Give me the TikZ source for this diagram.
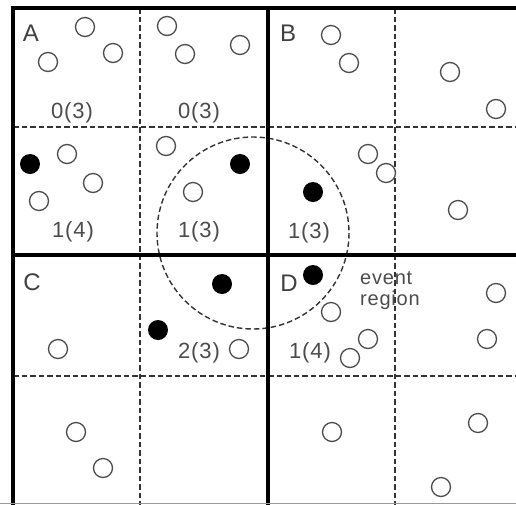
\documentclass[tikz,border=0pt]{standalone}
\usepackage{fontspec}
\setmainfont{Liberation Sans}
\newfontfamily\spacedsans[LetterSpace=4]{Liberation Sans}
\begin{document}
\begin{tikzpicture}[x=1pt,y=-1pt,
  open/.style={circle,draw=black!70,line width=1.3pt,minimum size=19pt,inner sep=0pt,fill=white},
  full/.style={circle,fill=black,minimum size=20pt,inner sep=0pt},
  thick line/.style={line width=4pt,black},
  dash line/.style={line width=1.4pt,black!80,dash pattern=on 5.5pt off 3pt},
  quad/.style={font=\fontsize{24}{28}\selectfont,text=black!75,inner sep=0pt},
  cnt/.style={font=\spacedsans\fontsize{22}{26}\selectfont,text=black!70,inner sep=0pt},
  ev/.style={font=\spacedsans\fontsize{20}{24}\selectfont,text=black!70,inner sep=0pt,align=left}]
\useasboundingbox (0,0) rectangle (516,504);
\fill[white] (0,0) rectangle (516,504);
\begin{scope}
\clip (0,0) rectangle (516,504);
% dashed grid
\draw[dash line] (140,8) -- (140,510);
\draw[dash line] (395,8) -- (395,510);
\draw[dash line] (13,127) -- (520,127);
\draw[dash line] (13,376) -- (520,376);
% event region
\draw[dash line] (253,233) circle (96);
% thick frame
\draw[thick line] (13,520) -- (13,8) -- (530,8);
\draw[thick line] (268,8) -- (268,520);
\draw[thick line] (13,255) -- (530,255);
\draw[black!40,line width=0.8pt] (0,503) -- (516,503);
\end{scope}
% quadrant labels
\node[quad] (lA) at (31,33) {A};
\node[quad] (lB) at (288,33) {B};
\node[quad] (lC) at (32,282) {C};
\node[quad] (lD) at (289,283) {D};
% counts
\node[cnt] (c1) at (72,113) {0(3)};
\node[cnt] (c2) at (199,113) {0(3)};
\node[cnt] (c3) at (73,232) {1(4)};
\node[cnt] (c4) at (199,232) {1(3)};
\node[cnt] (c5) at (309,233) {1(3)};
\node[cnt] (c6) at (199,353) {2(3)};
\node[cnt] (c7) at (310,353) {1(4)};
\node[ev] (evt) at (390,291) {event\\[-3pt]region};
% open circles
\node[open] (o1) at (85,27) {};
\node[open] (o2) at (113,53) {};
\node[open] (o3) at (48,62) {};
\node[open] (o4) at (167,26) {};
\node[open] (o5) at (185,54) {};
\node[open] (o6) at (240,45) {};
\node[open] (o7) at (67,154) {};
\node[open] (o8) at (93,183) {};
\node[open] (o9) at (39,201) {};
\node[open] (o10) at (166,146) {};
\node[open] (o11) at (193,192) {};
\node[open] (o12) at (331,35) {};
\node[open] (o13) at (349,63) {};
\node[open] (o14) at (450,72) {};
\node[open] (o15) at (496,109) {};
\node[open] (o16) at (368,154) {};
\node[open] (o17) at (386,173) {};
\node[open] (o18) at (458,210) {};
\node[open] (o19) at (58,349) {};
\node[open] (o20) at (239,349) {};
\node[open] (o21) at (76,432) {};
\node[open] (o22) at (103,468) {};
\node[open] (o23) at (331,312) {};
\node[open] (o24) at (368,339) {};
\node[open] (o25) at (350,358) {};
\node[open] (o26) at (496,293) {};
\node[open] (o27) at (487,339) {};
\node[open] (o28) at (332,432) {};
\node[open] (o29) at (478,423) {};
\node[open] (o30) at (441,487) {};
% filled circles
\node[full] (f1) at (30,164) {};
\node[full] (f2) at (240,164) {};
\node[full] (f3) at (313,192) {};
\node[full] (f4) at (222,284) {};
\node[full] (f5) at (158,330) {};
\node[full] (f6) at (313,275) {};
\end{tikzpicture}
\end{document}
